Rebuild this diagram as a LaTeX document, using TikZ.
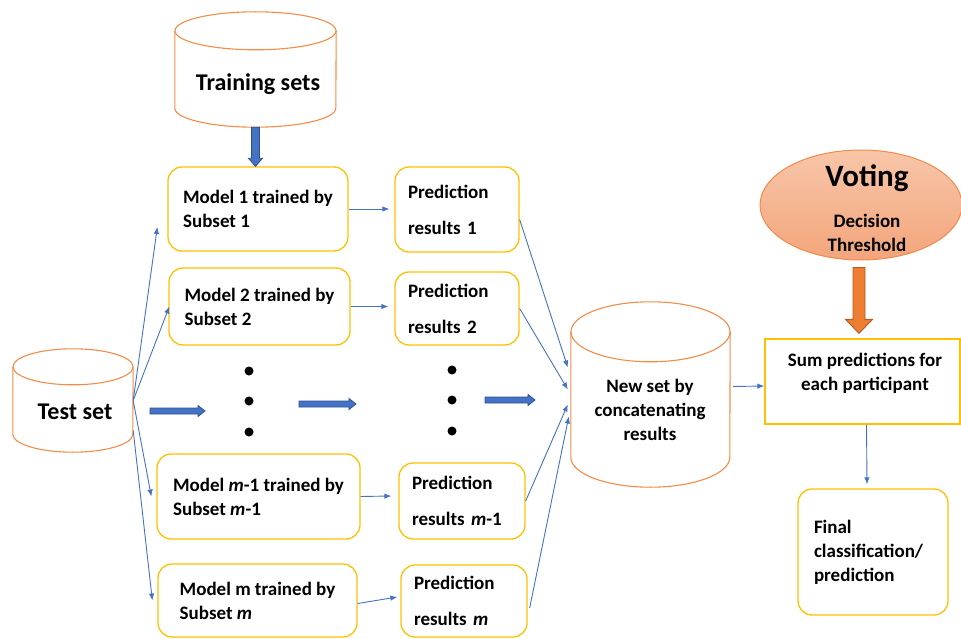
\documentclass[tikz,border=0pt]{standalone}
\usepackage{fontspec}
\setmainfont{Carlito}
\usetikzlibrary{arrows.meta,calc,shapes.geometric}

\definecolor{boxyellow}{HTML}{FFC000}
\definecolor{cylorange}{HTML}{F28C48}
\definecolor{linkblue}{HTML}{4472C4}
\definecolor{arrowblue}{HTML}{4472C4}
\definecolor{arrowdark}{HTML}{2F528F}
\definecolor{voteedge}{HTML}{F08A4B}
\definecolor{votetop}{HTML}{F8C6A8}
\definecolor{votebottom}{HTML}{F3A57C}
\definecolor{thickorange}{HTML}{ED7D31}
\definecolor{thickorangedark}{HTML}{AE5A21}

% cylinder outline drawn around a named (invisible) node: #1 name, #2 x radius, #3 y radius
\newcommand\cylpath[3]{%
  \draw[cyl] ($(#1.north)+(0,#3)$) ellipse [x radius=#2pt, y radius=#3pt];
  \draw[cyl] ($(#1.north west)+(0,#3)$) -- ($(#1.south west)+(0,-#3)$)
    arc[start angle=180, end angle=360, x radius=#2pt, y radius=#3pt]
    -- ($(#1.north east)+(0,#3)$);}

% horizontal block arrow: #1 start x, #2 tip x, #3 y
\newcommand\harrow[3]{%
  \draw[barrow] (#1,#3-3) -- (#2-7,#3-3) -- (#2-7,#3-5.5) -- (#2,#3)
    -- (#2-7,#3+5.5) -- (#2-7,#3+3) -- (#1,#3+3) -- cycle;}

\begin{document}
\begin{tikzpicture}[x=1pt,y=-1pt,
  txt/.style={font=\fontsize{19}{24}\selectfont\bfseries},
  bigtxt/.style={font=\fontsize{24}{28}\selectfont\bfseries},
  modelbox/.style={draw=boxyellow, line width=1.3pt, rounded corners=14pt,
    align=left, txt, inner sep=0pt},
  predbox/.style={draw=boxyellow, line width=1.3pt, rounded corners=14pt,
    align=left, txt, inner xsep=13pt, inner ysep=0pt},
  cylnode/.style={inner sep=0pt},
  cyl/.style={draw=cylorange, line width=1.1pt},
  link/.style={draw=linkblue, line width=0.9pt, -{Latex[length=7pt,width=5.5pt]}},
  barrow/.style={draw=arrowdark, fill=arrowblue, line width=0.8pt, line join=miter},
  oarrow/.style={draw=thickorangedark, fill=thickorange, line width=0.9pt, line join=miter},
  dot/.style={circle, fill=black, inner sep=0pt, minimum size=9pt}
]
\useasboundingbox (0,0) rectangle (961,639);

% data stores
\node[cylnode, minimum width=161pt, minimum height=115pt] (train) at (255.5,69.5) {};
\cylpath{train}{80.5}{19}
\node[bigtxt] at (258,84) {Training sets};

\node[cylnode, minimum width=120pt, minimum height=103pt] (test) at (73,400.5) {};
\cylpath{test}{60}{18}
\node[bigtxt] at (75,412) {Test set};

\node[cylnode, minimum width=159pt, minimum height=185pt] (newset) at (650.5,394.5) {};
\cylpath{newset}{79.5}{30}
\node[txt, align=center] at (650,410) {New set by\\concatenating\\results};

% models
\node[modelbox, minimum width=180pt, minimum height=84pt] (m1) at (258,209) {Model 1 trained by\\Subset 1};
\node[modelbox, minimum width=181pt, minimum height=77pt] (m2) at (259.5,306.5) {Model 2 trained by\\Subset 2};
\node[modelbox, minimum width=203pt, minimum height=85pt] (mm1) at (258.5,496.5) {Model \textit{m}-1 trained by\\Subset \textit{m}-1};
\node[modelbox, minimum width=199pt, minimum height=73pt] (mm) at (257.5,600.5) {Model m trained by\\Subset \textit{m}};

% predictions
\node[predbox, text width=98pt, minimum height=85pt] (p1) at (457,209.5) {Prediction\\[12pt]results 1};
\node[predbox, text width=98pt, minimum height=73pt] (p2) at (457,308.5) {Prediction\\[12pt]results 2};
\node[predbox, text width=100pt, minimum height=76pt] (pm1) at (462,501) {Prediction\\[12pt]results \textit{m}-1};
\node[predbox, text width=100pt, minimum height=72pt] (pm) at (464,601) {Prediction\\[12pt]results \textit{m}};

% ellipsis dots
\node[dot] (da) at (249,371) {};
\node[dot] (db) at (249,401) {};
\node[dot] (dc) at (249,432) {};
\node[dot] (dd) at (452,370) {};
\node[dot] (de) at (452,400) {};
\node[dot] (df) at (452,431) {};

% voting
\node[ellipse, draw=voteedge, line width=1pt, top color=votetop, bottom color=votebottom,
  minimum width=202pt, minimum height=110pt, inner sep=0pt] (vote) at (861,205) {};
\node[font=\fontsize{31}{31}\selectfont\bfseries] at (867,178) {Voting};
\node[txt, align=center] at (867,233) {Decision\\Threshold};

% summation and final decision
\node[draw=boxyellow, line width=1.3pt, minimum width=195pt, minimum height=85pt, inner sep=0pt] (sum) at (862.5,381.5) {};
\node[txt, align=center] at (865,373) {Sum predictions for\\each participant};
\node[predbox, inner xsep=16pt, text width=118pt, minimum height=126pt] (final) at (873,552) {Final\\classification/\\prediction};

% block arrows
\draw[barrow] let \p1=(train.south), \p2=(m1.north) in
  (\x1-4pt,\y1) -- (\x1-4pt,\y2+8pt) -- (\x1-7pt,\y2+8pt) -- (\x1,\y2)
  -- (\x1+7pt,\y2+8pt) -- (\x1+4pt,\y2+8pt) -- (\x1+4pt,\y1) -- cycle;
\harrow{150}{205}{411}
\harrow{299}{356}{404}
\harrow{485}{535}{400}
\draw[oarrow] let \p1=($(vote.south)+(-2,7)$), \p2=($(sum.north)+(0,-5)$) in
  (\x1-6pt,\y1) -- (\x1-6pt,\y2+14pt) -- (\x1-13.5pt,\y2+14pt) -- (\x1,\y2)
  -- (\x1+13.5pt,\y2+14pt) -- (\x1+6pt,\y2+14pt) -- (\x1+6pt,\y1) -- cycle;

% test set to models
\draw[link] (test.east) -- ($(m1.west)+(-10,18)$);
\draw[link] (test.east) -- ($(m2.west)+(1,0)$);
\draw[link] (test.east) -- ($(mm1.west)+(-5,0)$);
\draw[link] ($(test.east)+(0,30)$) -- ($(mm.west)+(-5,0)$);

% models to predictions
\draw[link] (m1.east) -- ($(m1.east -| p1.west)+(-5,0)$);
\draw[link] (m2.east) -- ($(m2.east -| p2.west)+(-6,0)$);
\draw[link] (mm1.east) -- ($(pm1.west)+(-7,-5)$);
\draw[link] ($(mm.east)+(0,3)$) -- ($(pm.west)+(-3,-4)$);

% predictions to the concatenated set
\draw[link] ($(p1.east)+(0,10)$) -- ($(newset.west)+(-3,-27)$);
\draw[link] (p2.east) -- ($(newset.west)+(-3,-5)$);
\draw[link] (pm1.east) -- ($(newset.west)+(-3,10)$);
\draw[link] ($(pm.east)+(2,7)$) -- ($(newset.west)+(-2,22)$);

% aggregation
\draw[link] ($(newset.east)+(3,-8)$) -- ($(sum.west)+(0,4.5)$);
\draw[link] ($(sum.south)+(4,0)$) -- ($(final.north)+(-6,-4)$);
\end{tikzpicture}
\end{document}
